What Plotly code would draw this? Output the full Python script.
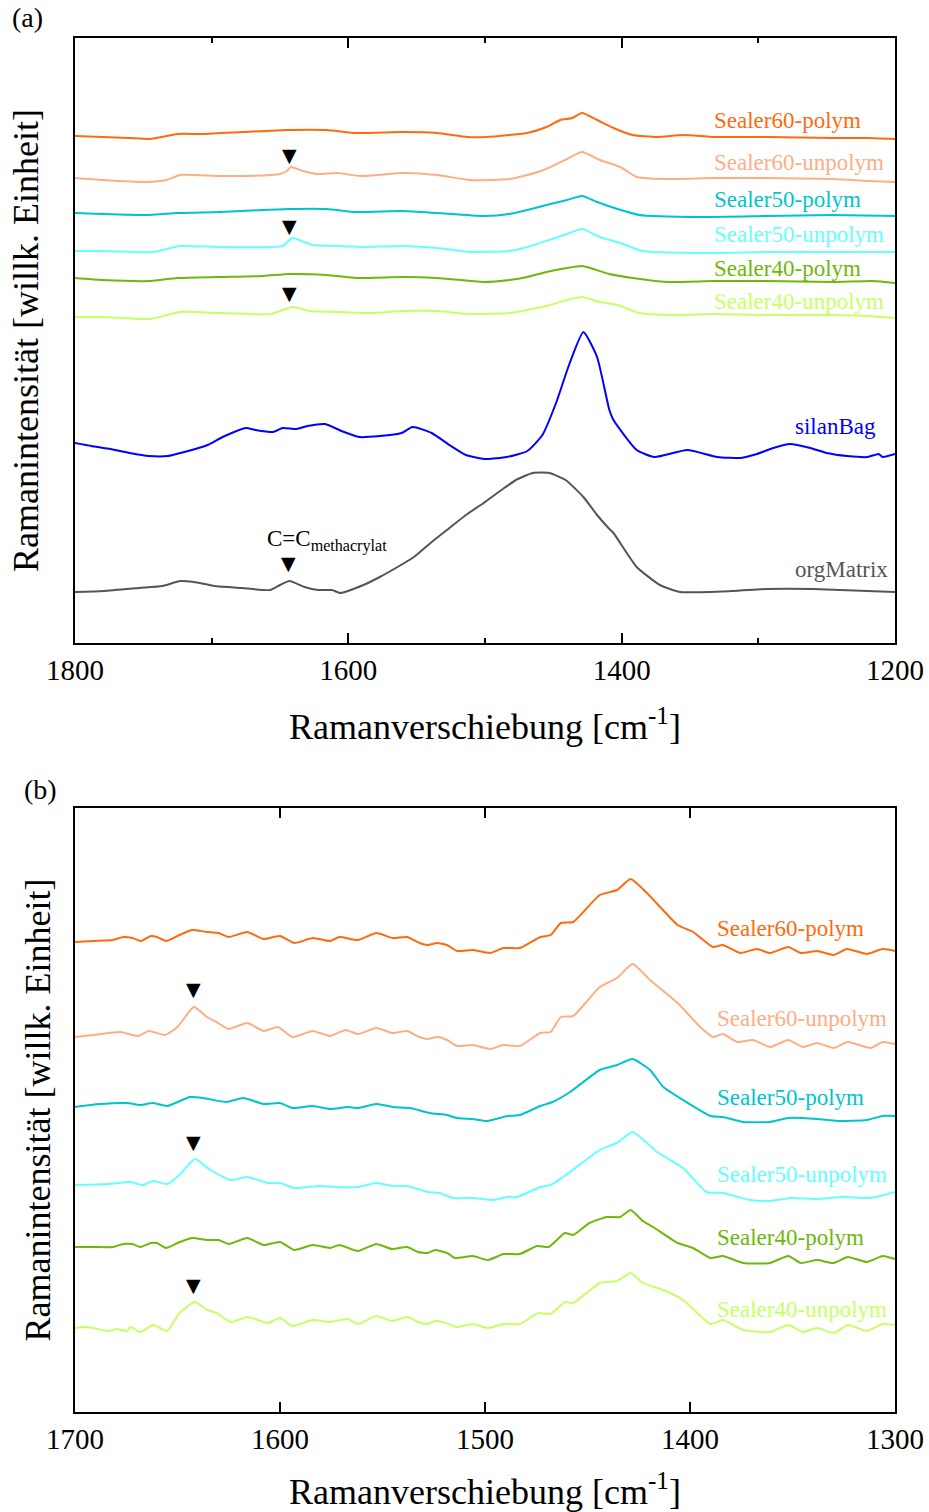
import plotly.graph_objects as go

# ---------------- Panel (a): wavenumber [cm^-1] / intensity [arb. units] ----------------
A_S60P_X = [1800, 1780, 1760, 1745, 1725, 1706, 1677, 1645, 1616, 1594, 1560, 1535, 1513, 1499, 1482, 1469, 1455, 1445, 1436, 1429, 1418, 1406, 1392, 1374, 1355, 1333, 1294, 1245, 1220, 1200]
A_S60P_Y = [507, 506, 505, 504, 509, 509, 511, 513, 513, 510, 511, 510, 506, 506, 508, 510, 516, 523, 525, 530, 523, 515, 508, 506, 508, 506, 506, 505, 505, 504]

A_S60U_X = [1800, 1780, 1747, 1733, 1723, 1694, 1657, 1650, 1645, 1642, 1633, 1623, 1608, 1591, 1560, 1535, 1511, 1482, 1469, 1457, 1440, 1429, 1416, 1401, 1389, 1367, 1333, 1294, 1245, 1220, 1200]
A_S60U_Y = [465, 463, 461, 463, 468, 467, 468, 469, 472, 476, 472, 469, 470, 467, 470, 468, 463, 464, 468, 473, 484, 491, 483, 476, 466, 464, 465, 465, 464, 462, 461]

A_S50P_X = [1800, 1780, 1745, 1725, 1694, 1662, 1643, 1616, 1594, 1560, 1535, 1501, 1482, 1469, 1455, 1440, 1429, 1418, 1403, 1387, 1343, 1294, 1245, 1200]
A_S50P_Y = [430, 429, 428, 430, 431, 433, 434, 434, 431, 432, 430, 427, 429, 433, 438, 443, 447, 441, 434, 428, 426, 427, 428, 427]

A_S50U_X = [1800, 1780, 1743, 1723, 1694, 1657, 1648, 1641, 1626, 1608, 1589, 1560, 1535, 1511, 1482, 1469, 1453, 1440, 1429, 1416, 1401, 1385, 1343, 1294, 1245, 1200]
A_S50U_Y = [392, 392, 391, 397, 396, 396, 397, 405, 398, 397, 396, 397, 395, 391, 392, 396, 403, 409, 414, 406, 400, 392, 390, 391, 391, 391]

A_S40P_X = [1800, 1780, 1745, 1725, 1694, 1662, 1643, 1616, 1594, 1560, 1535, 1501, 1482, 1469, 1455, 1440, 1429, 1423, 1409, 1392, 1367, 1333, 1294, 1245, 1216, 1200]
A_S40P_Y = [365, 363, 362, 365, 366, 367, 369, 368, 365, 366, 365, 361, 363, 366, 371, 375, 377, 375, 369, 365, 361, 362, 362, 361, 362, 360]

A_S40U_X = [1800, 1780, 1745, 1723, 1694, 1657, 1641, 1628, 1608, 1584, 1560, 1535, 1511, 1482, 1469, 1455, 1440, 1429, 1416, 1403, 1387, 1362, 1333, 1294, 1245, 1220, 1200]
A_S40U_Y = [326, 326, 324, 331, 330, 329, 336, 332, 331, 330, 332, 332, 329, 330, 333, 337, 343, 346, 341, 338, 330, 328, 329, 328, 328, 327, 325]

A_SILAN_X = [1800, 1788, 1774, 1760, 1746, 1732, 1720, 1703, 1692, 1675, 1668, 1655, 1648, 1638, 1630, 1617, 1605, 1592, 1577, 1561, 1553, 1539, 1526, 1514, 1499, 1484, 1469, 1458, 1448, 1438, 1428, 1418, 1409, 1406, 1389, 1376, 1352, 1330, 1313, 1301, 1289, 1277, 1262, 1250, 1235, 1220, 1212, 1209, 1200]
A_SILAN_Y = [200, 197, 194, 190, 187, 187, 191, 198, 206, 215, 213, 211, 215, 214, 217, 219, 212, 206, 207, 210, 216, 210, 198, 188, 184, 186, 192, 208, 240, 280, 311, 286, 233, 223, 193, 186, 193, 186, 185, 189, 195, 199, 195, 190, 187, 186, 189, 186, 189]

A_ORG_X = [1800, 1779, 1753, 1736, 1723, 1713, 1698, 1678, 1657, 1650, 1643, 1632, 1622, 1612, 1606, 1589, 1577, 1564, 1552, 1539, 1526, 1514, 1501, 1486, 1476, 1465, 1453, 1441, 1428, 1418, 1409, 1406, 1389, 1372, 1357, 1319, 1294, 1260, 1240, 1200]
A_ORG_Y = [51, 52, 55, 57, 62, 61, 57, 55, 53, 58, 62, 56, 53, 53, 50, 58, 66, 76, 86, 101, 115, 128, 140, 155, 164, 170, 170, 163, 146, 128, 114, 110, 76, 58, 51, 52, 54, 54, 53, 51]

# ---------------- Panel (b) ----------------
B_S60P_X = [1700, 1691, 1681.5, 1676.5, 1672, 1668, 1663, 1660, 1655.6, 1650, 1643, 1635.6, 1630, 1625, 1616, 1608, 1600, 1593, 1584, 1575.6, 1571, 1562, 1553, 1545, 1538, 1532, 1528, 1523.4, 1518.5, 1513.7, 1506, 1497.6, 1491, 1483, 1473, 1468, 1463, 1457, 1444, 1435.6, 1429, 1421, 1406, 1398.5, 1388.8, 1384, 1375.6, 1367.3, 1361, 1352, 1346, 1338, 1330, 1323.4, 1313.7, 1306, 1300]
B_S60P_Y = [470, 471, 472, 475, 474, 471, 476, 475, 471, 476, 482, 480, 479, 475, 480, 473, 476, 469, 474, 471, 475, 472, 479, 474, 475, 469, 467, 469, 467, 461, 462, 459, 464, 464, 475, 477, 489, 490, 517, 522, 533, 519, 487, 480, 465, 467, 459, 463, 459, 465, 459, 461, 457, 463, 458, 463, 461]

B_S60U_X = [1700, 1691, 1678, 1669, 1664, 1656, 1650, 1642, 1635.6, 1631, 1625, 1616, 1608, 1601, 1594, 1584, 1575.6, 1568, 1562, 1553, 1545, 1538, 1532, 1528, 1523.4, 1518.5, 1513.7, 1506, 1497.6, 1491, 1483, 1473, 1468, 1463, 1457, 1444, 1435.6, 1428, 1419.5, 1406, 1395, 1388.8, 1384, 1377, 1369.3, 1361, 1352, 1345, 1338, 1330, 1323, 1312, 1306, 1300]
B_S60U_Y = [375, 377, 380, 376, 381, 377, 385, 405, 395, 390, 383, 389, 381, 385, 375, 381, 376, 382, 378, 384, 379, 381, 375, 373, 375, 372, 366, 367, 363, 367, 366, 379, 380, 395, 396, 425, 434, 448, 432, 409, 385, 375, 378, 370, 372, 365, 372, 365, 369, 364, 370, 364, 370, 368]

B_S50P_X = [1700, 1688, 1674.6, 1668, 1662, 1655, 1644, 1637.5, 1626, 1618, 1608, 1600, 1594, 1584, 1575.6, 1567, 1562, 1553, 1545, 1536.6, 1527, 1518.5, 1513.7, 1506, 1499, 1489, 1483, 1473, 1467, 1458.5, 1444, 1435.6, 1428, 1419.5, 1413, 1403.4, 1390, 1384, 1374, 1361, 1352, 1338, 1328, 1313.7, 1306, 1300]
B_S50P_Y = [305, 308, 309, 307, 309, 306, 315, 314, 310, 314, 308, 309, 304, 306, 303, 305, 304, 308, 305, 304, 299, 297, 294, 293, 291, 296, 297, 306, 310, 320, 342, 347, 353, 342, 325, 312, 296, 295, 290, 290, 294, 293, 291, 292, 296, 296]

B_S50U_X = [1700, 1684, 1673, 1667, 1662, 1655, 1649, 1641.5, 1634, 1624, 1616, 1606, 1600, 1593, 1580.5, 1572, 1562, 1553, 1545, 1538, 1528, 1522, 1515.6, 1506, 1496, 1489, 1484.4, 1473, 1468, 1458.5, 1444, 1435.6, 1428, 1416, 1403.4, 1392, 1384, 1370.7, 1361, 1351, 1338, 1325.4, 1312, 1300]
B_S50U_Y = [227, 228, 230, 227, 231, 228, 237, 253, 242, 232, 235, 229, 229, 224, 226, 225, 225, 229, 226, 226, 220, 219, 214, 214, 212, 215, 215, 225, 227, 240, 262, 269, 280, 260, 244, 220, 219, 212, 211, 214, 213, 215, 214, 220]

B_S40P_X = [1700, 1691, 1681.5, 1676.5, 1672, 1668, 1663, 1660, 1655.6, 1650, 1643, 1635.6, 1630, 1625, 1616, 1608, 1600, 1593, 1584, 1575.6, 1571, 1562, 1553, 1545.4, 1538, 1532.7, 1528, 1524.4, 1518.5, 1514.6, 1506, 1498.5, 1491, 1483, 1474.6, 1469, 1461, 1457, 1449, 1440.5, 1434, 1429, 1423, 1418, 1406, 1398.5, 1390, 1384, 1374, 1361, 1352, 1346, 1338, 1330, 1323, 1313.7, 1306, 1300]
B_S40P_Y = [165, 165, 165, 168, 168, 165, 169, 169, 164, 169, 174, 172, 172, 168, 174, 167, 170, 162, 167, 164, 167, 161, 168, 163, 165, 160, 159, 162, 159, 154, 156, 152, 158, 158, 166, 165, 179, 177, 189, 195, 195, 202, 191, 185, 169, 164, 154, 156, 149, 149, 156, 149, 152, 149, 155, 150, 156, 153]

B_S40U_X = [1700, 1694, 1684, 1679.5, 1674.6, 1673, 1668, 1662, 1655, 1649, 1641.5, 1635.6, 1631, 1624, 1616, 1606, 1600, 1594, 1584, 1575.6, 1567, 1562, 1553, 1545.4, 1537.6, 1532.7, 1528, 1524.4, 1520.5, 1513.7, 1506, 1498.5, 1491, 1483, 1474, 1468, 1461, 1457, 1444, 1435.6, 1429, 1423, 1413, 1403.4, 1390, 1384, 1374, 1361, 1352, 1345, 1338, 1330, 1323, 1313.7, 1306, 1300]
B_S40U_Y = [84, 85, 81, 83, 81, 85, 80, 87, 81, 99, 110, 102, 99, 90, 95, 89, 94, 86, 92, 90, 93, 88, 96, 91, 95, 90, 88, 91, 90, 85, 88, 84, 88, 88, 99, 98, 110, 109, 129, 131, 139, 129, 122, 112, 88, 92, 82, 80, 87, 80, 84, 79, 87, 81, 88, 87]

SERIES_NAMES = ["Sealer60-polym", "Sealer60-unpolym", "Sealer50-polym", "Sealer50-unpolym",
                "Sealer40-polym", "Sealer40-unpolym", "silanBag", "orgMatrix"]
SERIES_COLORS = ["#FF6a0d", "#FFAD85", "#00C4CC", "#66FFFF", "#6DB80A", "#C8FF66", "#0000FF", "#555555"]

A_X_TICKS = [1800, 1600, 1400, 1200]
B_X_TICKS = [1700, 1600, 1500, 1400, 1300]

# label anchor positions (wavenumber, intensity)
A_LABEL_X = [1334, 1334, 1334, 1334, 1334, 1334, 1275, 1275]
A_LABEL_Y = [522, 480, 443, 408, 375, 342, 217, 74]
B_LABEL_X = [1388, 1388, 1388, 1388, 1388, 1388]
B_LABEL_Y = [484, 394, 315, 238, 175, 103]

# C=C marker positions
A_MARK_X = [1643, 1643, 1643, 1644]
A_MARK_Y = [488, 417, 350, 80]
B_MARK_X = [1642, 1642, 1642]
B_MARK_Y = [423, 270, 127]

FONT = "Liberation Serif"
LINE_SHAPE = dict(shape="spline", smoothing=0.5)

W, H = 929, 1512


def px_x(p):
    return p / W


def px_y(p):
    return 1 - p / H


fig = go.Figure()

a_data = [(A_S60P_X, A_S60P_Y), (A_S60U_X, A_S60U_Y), (A_S50P_X, A_S50P_Y), (A_S50U_X, A_S50U_Y),
          (A_S40P_X, A_S40P_Y), (A_S40U_X, A_S40U_Y), (A_SILAN_X, A_SILAN_Y), (A_ORG_X, A_ORG_Y)]
for (xs, ys), name, col in zip(a_data, SERIES_NAMES, SERIES_COLORS):
    fig.add_trace(go.Scatter(x=xs, y=ys, mode="lines", name=name, line=dict(color=col, width=2, **LINE_SHAPE),
                             xaxis="x", yaxis="y", showlegend=False))

b_data = [(B_S60P_X, B_S60P_Y), (B_S60U_X, B_S60U_Y), (B_S50P_X, B_S50P_Y), (B_S50U_X, B_S50U_Y),
          (B_S40P_X, B_S40P_Y), (B_S40U_X, B_S40U_Y)]
for (xs, ys), name, col in zip(b_data, SERIES_NAMES[:6], SERIES_COLORS[:6]):
    fig.add_trace(go.Scatter(x=xs, y=ys, mode="lines", name=name, line=dict(color=col, width=2, **LINE_SHAPE),
                             xaxis="x2", yaxis="y2", showlegend=False))

annotations = []
for name, col, lx, ly in zip(SERIES_NAMES, SERIES_COLORS, A_LABEL_X, A_LABEL_Y):
    annotations.append(dict(x=lx, y=ly, xref="x", yref="y", text=name, showarrow=False,
                            xanchor="left", yanchor="middle", font=dict(family=FONT, size=23, color=col)))
for name, col, lx, ly in zip(SERIES_NAMES[:6], SERIES_COLORS[:6], B_LABEL_X, B_LABEL_Y):
    annotations.append(dict(x=lx, y=ly, xref="x2", yref="y2", text=name, showarrow=False,
                            xanchor="left", yanchor="middle", font=dict(family=FONT, size=23, color=col)))
for mx, my in zip(A_MARK_X, A_MARK_Y):
    annotations.append(dict(x=mx, y=my, xref="x", yref="y", text="▼", showarrow=False,
                            xanchor="center", yanchor="middle", font=dict(family="DejaVu Sans", size=19, color="black")))
for mx, my in zip(B_MARK_X, B_MARK_Y):
    annotations.append(dict(x=mx, y=my, xref="x2", yref="y2", text="▼", showarrow=False,
                            xanchor="center", yanchor="middle", font=dict(family="DejaVu Sans", size=19, color="black")))
annotations.append(dict(x=1661, y=103, xref="x", yref="y", text="C=C<sub>methacrylat</sub>", showarrow=False,
                        xanchor="left", yanchor="middle", font=dict(family=FONT, size=23, color="black")))
annotations.append(dict(x=px_x(10), y=px_y(18), xref="paper", yref="paper", text="(a)", showarrow=False,
                        xanchor="left", yanchor="middle", font=dict(family=FONT, size=28, color="black")))
annotations.append(dict(x=px_x(22), y=px_y(790), xref="paper", yref="paper", text="(b)", showarrow=False,
                        xanchor="left", yanchor="middle", font=dict(family=FONT, size=28, color="black")))

xdom = [px_x(75), px_x(895)]
axis_common = dict(showline=True, linecolor="black", linewidth=2, mirror="ticks", ticks="inside",
                   tickcolor="black", tickwidth=1.5, ticklen=10, showgrid=False, zeroline=False,
                   automargin=False, tickfont=dict(family=FONT, size=29, color="black"))
yaxis_common = dict(showline=True, linecolor="black", linewidth=2, mirror=True, ticks="", showticklabels=False,
                    showgrid=False, zeroline=False, automargin=False)

fig.update_layout(
    width=W, height=H, margin=dict(l=0, r=0, t=0, b=0, autoexpand=False),
    paper_bgcolor="white", plot_bgcolor="white",
    annotations=annotations,
    xaxis=dict(domain=xdom, anchor="y", range=[1800, 1200], tickvals=A_X_TICKS,
               minor=dict(dtick=100, tick0=1200, ticks="inside", ticklen=5, tickcolor="black", tickwidth=1.5),
               title=dict(text="Ramanverschiebung [cm<sup>-1</sup>]", font=dict(family=FONT, size=36, color="black"), standoff=29),
               **axis_common),
    yaxis=dict(domain=[px_y(643), px_y(38)], anchor="x", range=[0, 605],
               title=dict(text="Ramanintensität [willk. Einheit]", font=dict(family=FONT, size=36, color="black"), standoff=23),
               **yaxis_common),
    xaxis2=dict(domain=xdom, anchor="y2", range=[1700, 1300], tickvals=B_X_TICKS,
                title=dict(text="Ramanverschiebung [cm<sup>-1</sup>]", font=dict(family=FONT, size=36, color="black"), standoff=31),
                **axis_common),
    yaxis2=dict(domain=[px_y(1412), px_y(808)], anchor="x2", range=[0, 604],
                title=dict(text="Ramanintensität [willk. Einheit]", font=dict(family=FONT, size=36, color="black"), standoff=11),
                **yaxis_common),
)

# remove the page's default body margin so the 929x1512 figure fills the window exactly
fig.write_html("out.html", config={"displayModeBar": False},
               post_script="document.body.style.margin='0px';document.body.style.overflow='hidden';")
